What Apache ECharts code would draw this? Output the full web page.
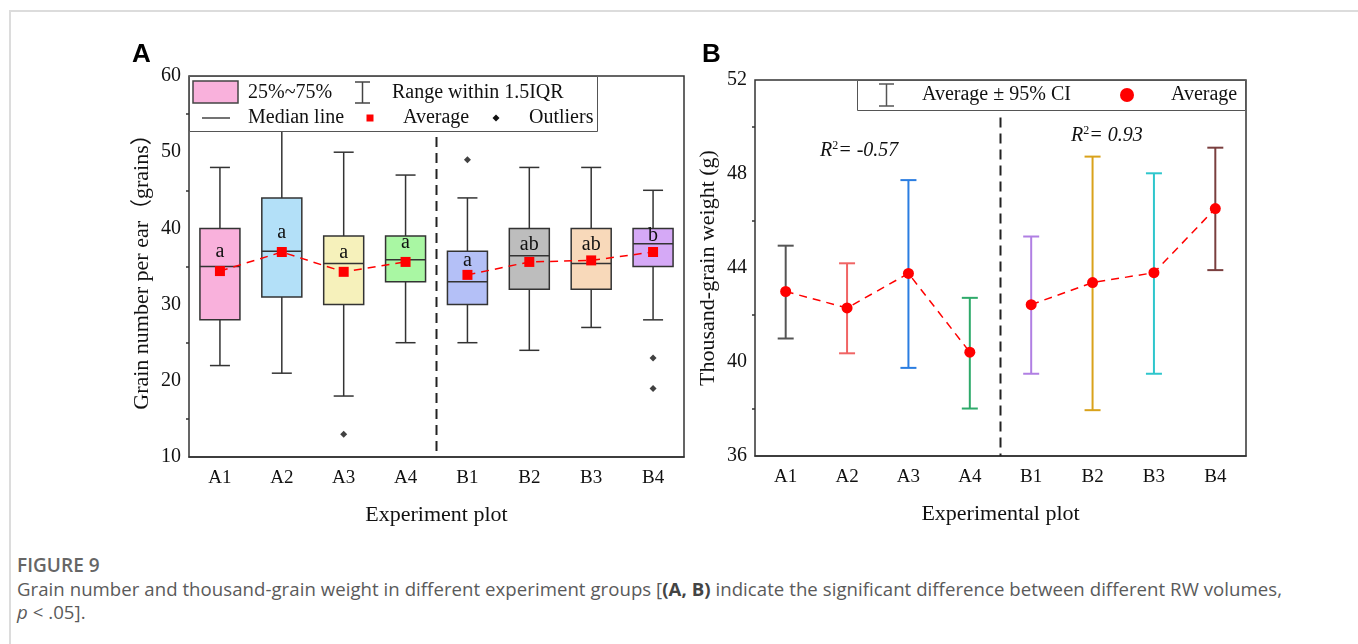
<!DOCTYPE html>
<html>
<head>
<meta charset="utf-8">
<title>Figure 9</title>
<script src="https://cdn.jsdelivr.net/npm/echarts@6/dist/echarts.min.js"></script>
<style>
  body { margin: 0; background: #fff; }
  #frame {
    position: absolute; left: 9px; top: 10px; width: 1349px; height: 634px;
    border-top: 2px solid #dcdcdc; border-left: 2px solid #dcdcdc;
  }
  #chart { position: absolute; left: 0; top: 0; width: 1358px; height: 540px; }
  .caption {
    position: absolute; left: 17px; top: 554px; width: 1335px;
    font-family: 'Open Sans', sans-serif; color: #5a5a5a; font-size: 18.6px; line-height: 23px;
    letter-spacing: 0.05px;
  }
  .caption .fig { font-weight: 600; color: #666; font-size: 19px; margin-bottom: 0; }
  .caption b { color: #444; }
</style>
</head>
<body>
<div id="frame"></div>
<div id="chart"></div>
<div class="caption">
  <div class="fig">FIGURE 9</div>
  <div>Grain number and thousand-grain weight in different experiment groups [<b>(A, B)</b> indicate the significant difference between different RW volumes,<br><i>p</i> &lt; .05].</div>
</div>
<script>
// categories shared by both panels
const categories = ['A1', 'A2', 'A3', 'A4', 'B1', 'B2', 'B3', 'B4']

// panel A: grain number per ear (box plots)
const boxLow = [22, 21, 18, 25, 25, 24, 27, 28]
const boxQ1 = [28, 31, 30, 33, 30, 32, 32, 35]
const boxMedian = [35, 37, 35.4, 35.9, 33, 36.4, 35.4, 38]
const boxQ3 = [40, 44, 39, 39, 37, 40, 40, 40]
const boxHigh = [48, 55, 50, 47, 44, 48, 48, 45]
const grainMean = [34.4, 36.9, 34.3, 35.6, 33.9, 35.6, 35.8, 36.9]
const outliers = [[2, 13], [4, 49], [7, 23], [7, 19]]
const sigLetters = ['a', 'a', 'a', 'a', 'a', 'ab', 'ab', 'b']
const letterY = [37.0, 39.4, 36.8, 38.1, 35.8, 37.8, 37.9, 39.0]
const boxColors = ['#f9b1dc', '#b3e0f8', '#f6f1bb', '#a9f7a3', '#b4c0f7', '#bdbdbd', '#f8d9ba', '#d5a9f6']

// panel B: thousand-grain weight (mean with 95% CI)
const weightMean = [43.0, 42.3, 43.77, 40.42, 42.44, 43.38, 43.8, 46.53]
const ciLow = [41.0, 40.37, 39.75, 38.02, 39.5, 37.95, 39.5, 43.91]
const ciHigh = [44.95, 44.2, 47.74, 42.73, 45.34, 48.74, 48.03, 49.12]
const barColors = ['#555555', '#f06464', '#2a7de1', '#2eaa6a', '#b07fe3', '#d9a21b', '#2ec6cc', '#7a3f3f']

const serif = 'Liberation Serif, Times New Roman, Noto Sans CJK SC, serif'
const axisColor = '#333'

function splitGroups(values) {
  return [
    values.map((v, i) => (i < 4 ? v : '-')),
    values.map((v, i) => (i >= 4 ? v : '-'))
  ]
}

function axisCommon() {
  return {
    axisLine: { lineStyle: { color: axisColor, width: 1.5 } },
    axisTick: { length: 6, lineStyle: { color: axisColor, width: 1.5 } },
    splitLine: { show: false },
    nameTextStyle: { fontFamily: serif, fontSize: 22, color: '#111' }
  }
}

function xAxis(gridIndex, name) {
  return {
    ...axisCommon(),
    type: 'category',
    gridIndex,
    data: categories,
    axisTick: { alignWithLabel: true, length: 6, lineStyle: { color: axisColor, width: 1.5 } },
    axisLabel: { fontFamily: serif, fontSize: 19, color: '#111', margin: 12 },
    name,
    nameLocation: 'middle',
    nameGap: 47
  }
}

function yAxis(gridIndex, name, min, max, interval) {
  return {
    ...axisCommon(),
    type: 'value',
    gridIndex,
    min,
    max,
    interval,
    minorTick: { show: true, splitNumber: 2, length: 3, lineStyle: { color: axisColor, width: 1.5 } },
    axisLabel: { fontFamily: serif, fontSize: 20, color: '#111', margin: 8 },
    name,
    nameLocation: 'middle',
    nameGap: 36
  }
}

function renderBox(params, api) {
  const i = params.dataIndex
  const x = api.value(0)
  const low = api.coord([x, api.value(1)])
  const q1 = api.coord([x, api.value(2)])
  const med = api.coord([x, api.value(3)])
  const q3 = api.coord([x, api.value(4)])
  const high = api.coord([x, api.value(5)])
  const cx = low[0]
  const half = 20
  const cap = 10
  const stroke = { stroke: axisColor, lineWidth: 1.5 }
  const lbl = api.coord([x, letterY[i]])
  return {
    type: 'group',
    children: [
      { type: 'line', shape: { x1: cx, y1: high[1], x2: cx, y2: q3[1] }, style: stroke },
      { type: 'line', shape: { x1: cx, y1: q1[1], x2: cx, y2: low[1] }, style: stroke },
      { type: 'line', shape: { x1: cx - cap, y1: high[1], x2: cx + cap, y2: high[1] }, style: stroke },
      { type: 'line', shape: { x1: cx - cap, y1: low[1], x2: cx + cap, y2: low[1] }, style: stroke },
      {
        type: 'rect',
        shape: { x: cx - half, y: q3[1], width: half * 2, height: q1[1] - q3[1] },
        style: { fill: boxColors[i], stroke: axisColor, lineWidth: 1.5 }
      },
      { type: 'line', shape: { x1: cx - half, y1: med[1], x2: cx + half, y2: med[1] }, style: stroke },
      {
        type: 'text',
        style: {
          text: sigLetters[i], x: lbl[0], y: lbl[1], align: 'center', verticalAlign: 'middle',
          fontFamily: serif, fontSize: 20, fill: '#111'
        }
      }
    ]
  }
}

function renderErrorBar(params, api) {
  const i = params.dataIndex
  const x = api.value(0)
  const lo = api.coord([x, api.value(1)])
  const hi = api.coord([x, api.value(2)])
  const cx = lo[0]
  const cap = 8
  const stroke = { stroke: barColors[i], lineWidth: 2 }
  return {
    type: 'group',
    children: [
      { type: 'line', shape: { x1: cx, y1: hi[1], x2: cx, y2: lo[1] }, style: stroke },
      { type: 'line', shape: { x1: cx - cap, y1: hi[1], x2: cx + cap, y2: hi[1] }, style: stroke },
      { type: 'line', shape: { x1: cx - cap, y1: lo[1], x2: cx + cap, y2: lo[1] }, style: stroke }
    ]
  }
}

// dashed divider halfway between A4 and B1
function renderDivider(params, api) {
  const left = api.coord([api.value(0), api.value(1)])
  const right = api.coord([api.value(0) + 1, api.value(1)])
  const bottom = params.coordSys.y + params.coordSys.height
  const x = (left[0] + right[0]) / 2
  return {
    type: 'line',
    shape: { x1: x, y1: left[1], x2: x, y2: bottom },
    style: { stroke: '#222', lineWidth: 2, lineDash: [10, 6] }
  }
}

const boxData = categories.map((c, i) => [i, boxLow[i], boxQ1[i], boxMedian[i], boxQ3[i], boxHigh[i]])
const ciData = categories.map((c, i) => [i, ciLow[i], ciHigh[i]])
const [grainMeanA, grainMeanB] = splitGroups(grainMean)
const [weightMeanA, weightMeanB] = splitGroups(weightMean)

function meanSeries(xAxisIndex, data, symbol, size) {
  return {
    type: 'line',
    xAxisIndex,
    yAxisIndex: xAxisIndex,
    data,
    symbol,
    symbolSize: size,
    itemStyle: { color: '#ff0000' },
    lineStyle: { color: '#ff0000', width: 1.5, type: [8, 6] },
    z: 5,
    silent: true
  }
}

const legendText = { fontFamily: serif, fontSize: 20, fill: '#111', verticalAlign: 'middle' }
const legendStroke = { stroke: '#444', lineWidth: 1.5 }

function superscriptText(left, top, value) {
  return {
    type: 'text',
    left,
    top,
    z: 100,
    style: {
      text: '{i|R}{s|2}{i|= ' + value + '}',
      rich: {
        i: { fontFamily: serif, fontStyle: 'italic', fontSize: 20, fill: '#111', lineHeight: 22 },
        s: { fontFamily: serif, fontSize: 12, fill: '#111', verticalAlign: 'top', lineHeight: 22 }
      }
    }
  }
}

const option = {
  animation: false,
  grid: [
    { left: 189, top: 76, width: 495, height: 381, show: true, borderColor: axisColor, borderWidth: 1.5 },
    { left: 755, top: 80, width: 491, height: 376, show: true, borderColor: axisColor, borderWidth: 1.5 }
  ],
  xAxis: [xAxis(0, 'Experiment plot'), xAxis(1, 'Experimental plot')],
  yAxis: [
    yAxis(0, 'Grain number per ear（grains）', 10, 60, 10),
    yAxis(1, 'Thousand-grain weight (g)', 36, 52, 4)
  ],
  series: [
    { type: 'custom', xAxisIndex: 0, yAxisIndex: 0, data: [[3, 52]], renderItem: renderDivider, z: 1, silent: true },
    { type: 'custom', xAxisIndex: 0, yAxisIndex: 0, data: boxData, renderItem: renderBox, z: 2, silent: true },
    meanSeries(0, grainMeanA, 'rect', 10),
    meanSeries(0, grainMeanB, 'rect', 10),
    {
      type: 'scatter', xAxisIndex: 0, yAxisIndex: 0, data: outliers,
      symbol: 'diamond', symbolSize: 7, itemStyle: { color: '#111' }, z: 4, silent: true
    },
    { type: 'custom', xAxisIndex: 1, yAxisIndex: 1, data: [[3, 50.4]], renderItem: renderDivider, z: 1, silent: true },
    { type: 'custom', xAxisIndex: 1, yAxisIndex: 1, data: ciData, renderItem: renderErrorBar, z: 2, silent: true },
    meanSeries(1, weightMeanA, 'circle', 11),
    meanSeries(1, weightMeanB, 'circle', 11)
  ],
  graphic: [
    // panel letters
    { type: 'text', left: 132, top: 42, z: 100, style: { text: 'A', fontFamily: 'Liberation Sans, Arial, sans-serif', fontWeight: 'bold', fontSize: 26, fill: '#000' } },
    { type: 'text', left: 702, top: 42, z: 100, style: { text: 'B', fontFamily: 'Liberation Sans, Arial, sans-serif', fontWeight: 'bold', fontSize: 26, fill: '#000' } },
    // legend panel A
    {
      type: 'group', z: 100,
      children: [
        { type: 'rect', z: 100, shape: { x: 189.5, y: 76.5, width: 408, height: 55 }, style: { fill: '#fff', stroke: '#555', lineWidth: 1 } },
        { type: 'rect', z: 101, shape: { x: 193, y: 81, width: 45, height: 22 }, style: { fill: '#f9b1dc', stroke: '#444', lineWidth: 1.5 } },
        { type: 'text', z: 101, x: 248, y: 93, style: { ...legendText, text: '25%~75%' } },
        { type: 'line', z: 101, shape: { x1: 362.5, y1: 82, x2: 362.5, y2: 103 }, style: legendStroke },
        { type: 'line', z: 101, shape: { x1: 355, y1: 82, x2: 370, y2: 82 }, style: legendStroke },
        { type: 'line', z: 101, shape: { x1: 355, y1: 103, x2: 370, y2: 103 }, style: legendStroke },
        { type: 'text', z: 101, x: 392, y: 93, style: { ...legendText, text: 'Range within 1.5IQR' } },
        { type: 'line', z: 101, shape: { x1: 202, y1: 118, x2: 230, y2: 118 }, style: legendStroke },
        { type: 'text', z: 101, x: 248, y: 118, style: { ...legendText, text: 'Median line' } },
        { type: 'rect', z: 101, shape: { x: 366.5, y: 114.5, width: 7, height: 7 }, style: { fill: '#ff0000' } },
        { type: 'text', z: 101, x: 403, y: 118, style: { ...legendText, text: 'Average' } },
        { type: 'polygon', z: 101, shape: { points: [[496, 114.5], [499.5, 118], [496, 121.5], [492.5, 118]] }, style: { fill: '#111' } },
        { type: 'text', z: 101, x: 529, y: 118, style: { ...legendText, text: 'Outliers' } }
      ]
    },
    // legend panel B
    {
      type: 'group', z: 100,
      children: [
        { type: 'rect', z: 100, shape: { x: 857.5, y: 80.5, width: 388, height: 30 }, style: { fill: '#fff', stroke: '#555', lineWidth: 1 } },
        { type: 'line', z: 101, shape: { x1: 886.5, y1: 84, x2: 886.5, y2: 106 }, style: { stroke: '#555', lineWidth: 1.5 } },
        { type: 'line', z: 101, shape: { x1: 879, y1: 84, x2: 894, y2: 84 }, style: { stroke: '#555', lineWidth: 1.5 } },
        { type: 'line', z: 101, shape: { x1: 879, y1: 106, x2: 894, y2: 106 }, style: { stroke: '#555', lineWidth: 1.5 } },
        { type: 'text', z: 101, x: 922, y: 95, style: { ...legendText, text: 'Average ± 95% CI' } },
        { type: 'circle', z: 101, shape: { cx: 1127, cy: 95, r: 7 }, style: { fill: '#ff0000' } },
        { type: 'text', z: 101, x: 1171, y: 95, style: { ...legendText, text: 'Average' } }
      ]
    },
    superscriptText(820, 140, '-0.57'),
    superscriptText(1071, 125, '0.93')
  ]
}

const chart = echarts.init(document.getElementById('chart'), null, { renderer: 'canvas' })
chart.setOption(option)
window.addEventListener('resize', () => chart.resize())
</script>
</body>
</html>
